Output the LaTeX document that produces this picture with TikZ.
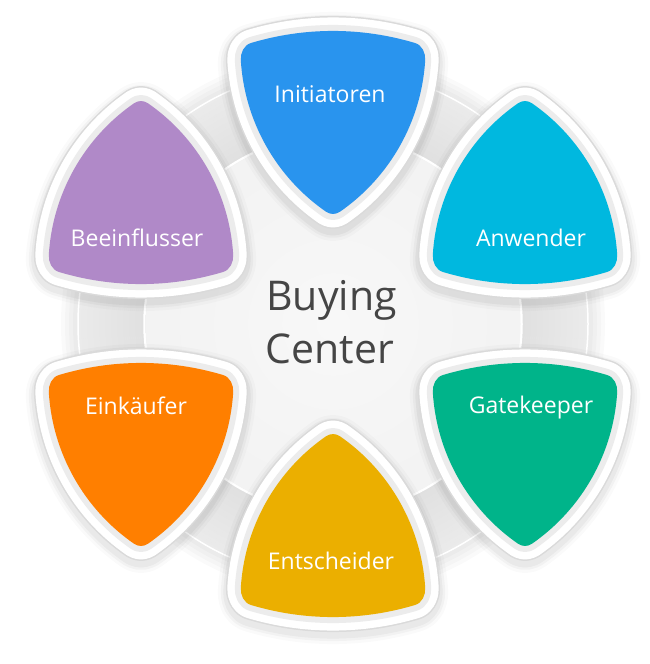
\documentclass[tikz,border=0pt]{standalone}
\usepackage{fontspec}
\setmainfont{Open Sans}
\definecolor{cInit}{HTML}{2994EE}
\definecolor{cAnw}{HTML}{00B8DF}
\definecolor{cGate}{HTML}{00B48A}
\definecolor{cEnt}{HTML}{EBAF00}
\definecolor{cEink}{HTML}{FF7F00}
\definecolor{cBeein}{HTML}{B089C8}
\definecolor{ctext}{HTML}{454545}
\definecolor{ringA}{HTML}{E0E0E0}
\definecolor{ringB}{HTML}{EBEBEB}
\definecolor{diskin}{HTML}{F8F8F8}
\definecolor{diskout}{HTML}{EDEDED}
\definecolor{bordout}{HTML}{DADADA}
\definecolor{bordin}{HTML}{ECECEC}
\newcommand{\tripath}{(-82,-59) .. controls (-28.35,-75.07) and (28.35,-75.07) .. (82,-59)
 .. controls (89.22,-56.84) and (92.64,-49.11) .. (92.18,-41.58)
 .. controls (88.46,19.20) and (56.94,75.14) .. (6.87,109.80)
 .. controls (2.73,112.66) and (-2.73,112.66) .. (-6.87,109.80)
 .. controls (-56.94,75.14) and (-88.46,19.20) .. (-92.18,-41.58)
 .. controls (-92.64,-49.11) and (-89.22,-56.84) .. (-82,-59) -- cycle}
\newcommand{\tri}[4]{%
  \begin{scope}[shift={(#1,#2+4)}, yscale=#3]
    \foreach \ww/\op in {46/0.02, 40/0.03, 35/0.04}{%
      \draw[line width=\ww pt, black, opacity=\op, line join=round] \tripath;}
  \end{scope}
  \begin{scope}[shift={(#1,#2)}, yscale=#3]
    \draw[line width=30pt, color=bordout, line join=round] \tripath;
    \draw[line width=27pt, white, line join=round] \tripath;
    \draw[line width=12pt, color=bordin, line join=round] \tripath;
    \fill[#4] \tripath;
  \end{scope}
}
\tikzset{
  lbl/.style={font=\fontsize{23}{28}\selectfont, text=white, anchor=base, inner sep=0pt},
  ctr/.style={font=\fontsize{41}{50}\selectfont, text=ctext, anchor=base, inner sep=0pt}
}
\begin{document}
\begin{tikzpicture}[x=1pt,y=-1pt]
\useasboundingbox (0,0) rectangle (650,664);
\coordinate (c) at (333,324);
% ring shadow
\foreach \r in {272,268,264,260}{\fill[black,opacity=0.018] (c) circle[radius=\r pt];}
% outer ring with gradient
\foreach \i in {0,...,33}{%
  \pgfmathtruncatemacro\p{100*\i/33}%
  \pgfmathsetmacro\rr{189+2*\i}%
  \draw[line width=2.3pt, color=ringB!\p!ringA] (c) circle[radius=\rr pt];}
\draw[white, line width=1.5pt] (c) circle[radius=255pt];
% inner disk
\draw[white, line width=2.5pt] (c) circle[radius=188.5pt];
\begin{scope}
  \clip (c) circle[radius=187.5pt];
  \shade[inner color=diskin, outer color=diskout] (c) circle[radius=375pt];
\end{scope}
% triangles
\tri{333}{102}{1}{cInit}
\tri{525}{213}{-1}{cAnw}
\tri{525}{434}{1}{cGate}
\tri{333}{546}{-1}{cEnt}
\tri{141}{434}{1}{cEink}
\tri{141}{213}{-1}{cBeein}
% labels
\node[lbl] (init) at (330,102) {Initiatoren};
\node[lbl] (anw) at (531,246) {Anwender};
\node[lbl] (gate) at (531,413) {Gatekeeper};
\node[lbl] (ent) at (331,569) {Entscheider};
\node[lbl] (eink) at (136,414) {Einkäufer};
\node[lbl] (beein) at (137,246) {Beeinflusser};
\node[ctr] (buy) at (331.5,310) {Buying};
\node[ctr] (cen) at (330,363) {Center};
\end{tikzpicture}
\end{document}
